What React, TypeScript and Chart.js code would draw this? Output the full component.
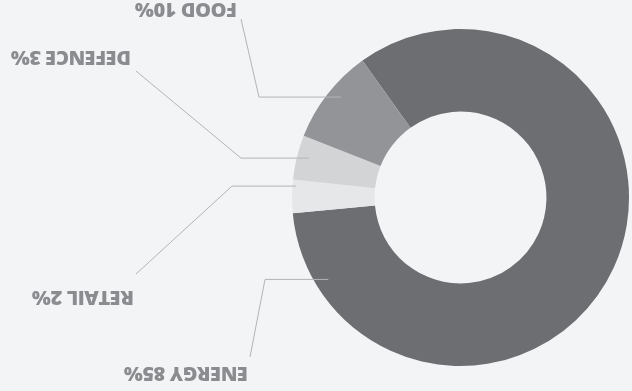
import React, { useEffect, useRef } from 'react';
import { Chart, registerables } from 'chart.js';

Chart.register(...registerables);

// Data
const categories = ['ENERGY', 'RETAIL', 'DEFENCE', 'FOOD'];
const shares = [83.4, 3.2, 4.25, 9.15];
const labelPercents = [85, 2, 3, 10];

const sliceColors = ['#6d6e72', '#e6e7e9', '#d3d4d6', '#939498'];
const BG = '#f3f4f6';

// Callout layout: anchor position inside each slice, elbow and end of the leader line,
// text offset from the end of the line (all relative to the doughnut centre, in px).
const calloutLayout = [
  { at: 0.912, r: 0.923, elbowX: 195.5, endX: 210.5, endY: -159.5, tx: 2, ty: -9.7 },
  { at: 0.81, r: 0.979, elbowX: 228.5, endX: 324.5, endY: -76.5, tx: 2, ty: -17 },
  { at: 0.55, r: 0.929, elbowX: 219.5, endX: 324.5, endY: 126.5, tx: 5, ty: 20 },
  { at: 0.565, r: 0.926, elbowX: 201.5, endX: 219.5, endY: 178.5, tx: 4, ty: 16 },
];

const backgroundPlugin = {
  id: 'bgFill',
  beforeDraw(chart: any) {
    const { ctx, width, height } = chart;
    ctx.save();
    ctx.fillStyle = BG;
    ctx.fillRect(0, 0, width, height);
    ctx.restore();
  },
};

const calloutPlugin = {
  id: 'callouts',
  afterDatasetsDraw(chart: any) {
    const { ctx } = chart;
    const meta = chart.getDatasetMeta(0);
    const labels = chart.data.labels as string[];
    meta.data.forEach((arc: any, i: number) => {
      const c = calloutLayout[i];
      if (!c) return;
      const { x, y, startAngle, endAngle, outerRadius } = arc.getProps(
        ['x', 'y', 'startAngle', 'endAngle', 'outerRadius'],
        true
      );
      const a = startAngle + c.at * (endAngle - startAngle);
      const ax = x + Math.cos(a) * outerRadius * c.r;
      const ay = y + Math.sin(a) * outerRadius * c.r;
      const ex = x + c.elbowX;
      const endX = x + c.endX;
      const endY = y + c.endY;
      ctx.save();
      ctx.strokeStyle = '#b3b4b7';
      ctx.lineWidth = 1;
      ctx.beginPath();
      ctx.moveTo(ax, ay);
      ctx.lineTo(ex, ay);
      ctx.lineTo(endX, endY);
      ctx.stroke();
      ctx.fillStyle = '#8b8c90';
      ctx.font = "800 20px 'Open Sans'";
      try {
        (ctx as any).letterSpacing = '-0.4px';
      } catch (e) {
        /* ignore */
      }
      ctx.textAlign = 'left';
      ctx.textBaseline = 'alphabetic';
      ctx.fillText(labels[i], endX + c.tx, endY + c.ty);
      ctx.restore();
    });
  },
};

export default function App() {
  const ref = useRef<HTMLCanvasElement | null>(null);
  useEffect(() => {
    const canvas = ref.current;
    if (!canvas) return;
    const chart = new Chart(canvas, {
      type: 'doughnut',
      data: {
        labels: categories.map((c, i) => `${c} ${labelPercents[i]}%`),
        datasets: [
          {
            data: shares,
            backgroundColor: sliceColors,
            borderWidth: 0,
            hoverOffset: 0,
          },
        ],
      },
      options: {
        animation: false,
        responsive: false,
        devicePixelRatio: 1,
        rotation: 144.4,
        cutout: '51%',
        layout: { padding: { left: 3, right: 292, top: 25, bottom: 29 } },
        plugins: {
          legend: { display: false },
          tooltip: { enabled: false },
        },
        events: [],
      },
      plugins: [backgroundPlugin, calloutPlugin],
    });
    return () => chart.destroy();
  }, []);
  return (
    <canvas
      ref={ref}
      width={632}
      height={391}
      style={{
        position: 'fixed',
        left: 0,
        top: 0,
        width: 632,
        height: 391,
        transform: 'rotate(180deg)',
        display: 'block',
      }}
    />
  );
}
